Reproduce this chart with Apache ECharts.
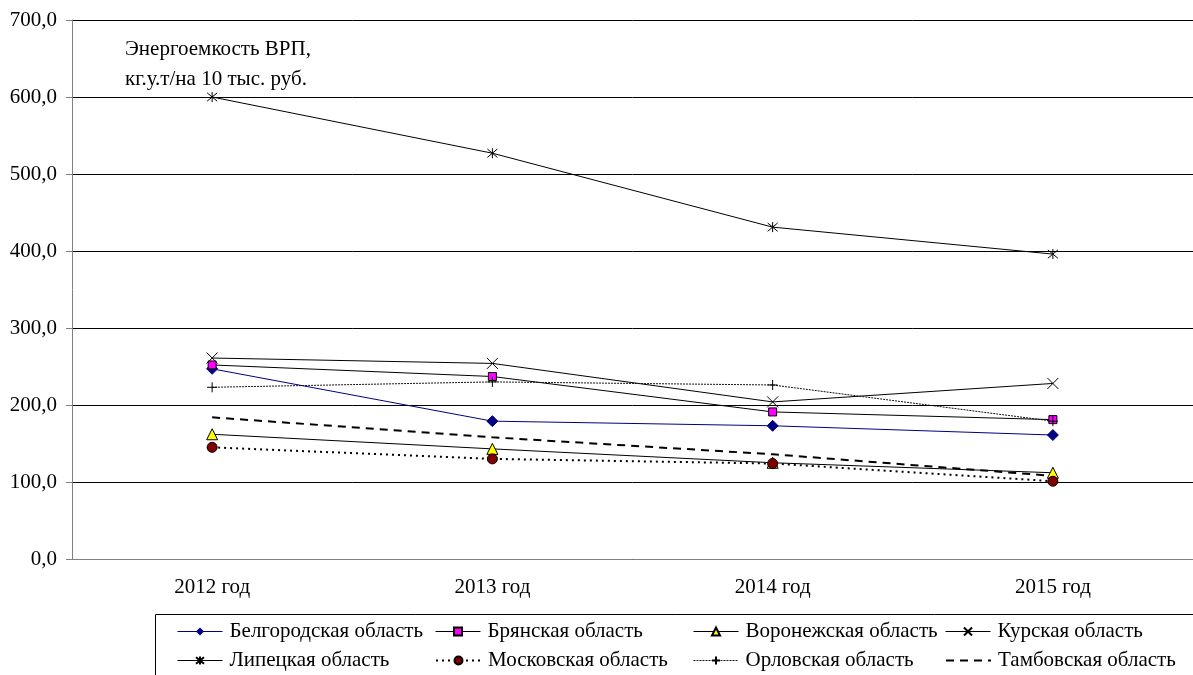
<!DOCTYPE html>
<html><head><meta charset="utf-8">
<script src="https://cdn.jsdelivr.net/npm/echarts@6/dist/echarts.min.js"></script>
<style>html,body{margin:0;padding:0;background:#fff}#c{width:1193px;height:675px}</style>
</head><body><div id="c"></div>
<script>
const categories = ['2012 год','2013 год','2014 год','2015 год'];
const belgorod = [247, 179, 173, 161];
const bryansk = [252, 237, 191, 181];
const voronezh = [162, 143, 125, 112];
const kursk = [261, 254, 204, 228];
const lipetsk = [600, 527, 431, 396];
const moscow = [145, 130, 124, 101];
const orel = [223, 230, 226, 179];
const tambov = [184, 158, 136, 108];
const yTicks = [0,100,200,300,400,500,600,700];

const F = '"Liberation Serif","Times New Roman",serif';
const FS = 21;
const P_X = 'path://M0,0L10,10M10,0L0,10';
const P_STAR = 'path://M0,0L10,10M10,0L0,10M5,-1L5,11';
const P_PLUS = 'path://M5,0L5,10M0,5L10,5';

function s(name, data, o){
  return Object.assign({name, type:'line', data, symbolSize:9, animation:false,
    lineStyle:{color:'#000', width:1}}, o);
}
const series = [
  s('Белгородская область', belgorod, {symbol:'diamond', symbolSize:11, lineStyle:{color:'#000080',width:1}, itemStyle:{color:'#000080',borderColor:'#000080'}}),
  s('Брянская область', bryansk, {symbol:'rect', symbolSize:8, itemStyle:{color:'#ff00ff',borderColor:'#000',borderWidth:1}}),
  s('Воронежская область', voronezh, {symbol:'triangle', symbolSize:11, itemStyle:{color:'#ffff00',borderColor:'#000',borderWidth:1}}),
  s('Курская область', kursk, {symbol:P_X, symbolSize:11, itemStyle:{color:'none',borderColor:'#000',borderWidth:1}}),
  s('Липецкая область', lipetsk, {symbol:P_STAR, symbolSize:10, itemStyle:{color:'none',borderColor:'#000',borderWidth:1}}),
  s('Московская область', moscow, {symbol:'circle', symbolSize:10, lineStyle:{color:'#000',width:2,type:[2,4]}, itemStyle:{color:'#800000',borderColor:'#000',borderWidth:1}}),
  s('Орловская область', orel, {symbol:P_PLUS, symbolSize:10, lineStyle:{color:'#111',width:1,type:[2,1]}, itemStyle:{color:'none',borderColor:'#000',borderWidth:1}}),
  s('Тамбовская область', tambov, {symbol:'circle', symbolSize:0.1, lineStyle:{color:'#000',width:2,type:[8,6]}, itemStyle:{color:'transparent',borderColor:'transparent',borderWidth:0}})
];
const legendPos = [
  [177,621],[435,621],[693,621],[945,621],
  [177,650],[435,650],[693,650],[945,650]
];
const legends = series.map((se,i)=>({
  data:[se.name], left:legendPos[i][0], top:legendPos[i][1], orient:'horizontal',
  itemWidth:45, itemHeight:10, itemGap:0, padding:0, selectedMode:false,
  lineStyle:{width:se.lineStyle.width},
  textStyle:{fontFamily:F, fontSize:FS, color:'#000', padding:[0,0,0,2]}
}));
const chart = echarts.init(document.getElementById('c'));
chart.setOption({
  animation:false,
  textStyle:{fontFamily:F},
  grid:{left:72, top:20, width:1128, height:539, containLabel:false},
  title:{text:'Энергоемкость ВРП,\nкг.у.т/на 10 тыс. руб.', left:125, top:34, padding:0,
    textStyle:{fontFamily:F, fontSize:FS, fontWeight:'normal', color:'#000', lineHeight:30}},
  legend: legends,
  graphic:[{type:'rect', shape:{x:155.5, y:614.5, width:1100, height:100}, style:{fill:'none', stroke:'#000', lineWidth:1}, z:-1}],
  xAxis:{type:'category', data:categories, boundaryGap:true,
    axisLine:{lineStyle:{color:'#808080', width:1}},
    axisTick:{show:false},
    axisLabel:{fontFamily:F, fontSize:FS, color:'#000', margin:18}},
  yAxis:{type:'value', min:yTicks[0], max:yTicks[yTicks.length-1], interval:100,
    axisLine:{show:true, lineStyle:{color:'#808080'}},
    axisTick:{show:true, length:6, lineStyle:{color:'#808080'}},
    splitLine:{lineStyle:{color:'#000', width:1}},
    axisLabel:{fontFamily:F, fontSize:FS, color:'#000', margin:15,
      formatter:v=>v.toFixed(1).replace('.',',')}},
  series
});
</script></body></html>
